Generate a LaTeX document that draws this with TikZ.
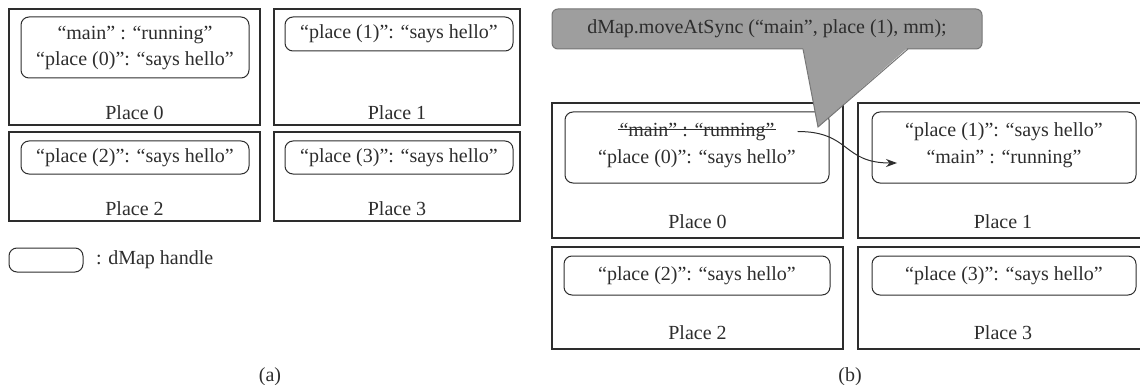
\documentclass[tikz,border=0pt]{standalone}
\usepackage{fontspec}
\setmainfont{Liberation Serif}
\usepackage{tikz}
\usetikzlibrary{calc}
\usetikzlibrary{positioning,arrows.meta}
\definecolor{inkgray}{RGB}{45,45,45}
\definecolor{calloutfill}{RGB}{158,158,158}
\definecolor{calloutline}{RGB}{118,118,118}

\begin{document}
\begin{tikzpicture}[
        x=1pt,
        y=-1pt,
        every node/.style={text=inkgray,font=\fontsize{20}{26}\selectfont},
        place box/.style={draw=inkgray,line width=1.2pt,inner sep=0pt},
        place label/.style={inner sep=0pt,anchor=base},
        dmap handle/.style={draw=inkgray,line width=1pt,rounded corners=8pt,
            align=center,inner sep=0pt},
        handle line/.style={inner sep=1pt,anchor=base},
        strike/.style={draw=inkgray,line width=1pt},
        callout/.style={fill=calloutfill,draw=calloutline,line width=1pt,
            rounded corners=6pt,inner sep=0pt},
        move arrow/.style={draw=inkgray,line width=1pt,
            -{Stealth[length=11pt,width=8pt]}}
    ]
        \useasboundingbox (0,0) rectangle (1140,385);

        % Panel (a): the four places before the move.
        \node[place box,minimum width=251pt,minimum height=116pt] (p0a) at (134.5,67) {};
        \node[place box,minimum width=246pt,minimum height=116pt] (p1a) at (397,67) {};
        \node[place box,minimum width=251pt,minimum height=89pt] (p2a) at (134.5,176.5) {};
        \node[place box,minimum width=246pt,minimum height=89pt] (p3a) at (397,176.5) {};
        \node[place label] at ($(p0a.south)+(0,-6)$) {Place 0};
        \node[place label] at ($(p1a.south)+(0,-6)$) {Place 1};
        \node[place label] at ($(p2a.south)+(0,-6)$) {Place 2};
        \node[place label] at ($(p3a.south)+(0,-6)$) {Place 3};

        \node[dmap handle,minimum width=228pt,minimum height=61pt] (h0a) at (135,47.5)
            {“main” : “running”\\“place (0)”: “says hello”};
        \node[dmap handle,minimum width=228pt,minimum height=34pt] (h1a) at (399,34)
            {“place (1)”: “says hello”};
        \node[dmap handle,minimum width=228pt,minimum height=33pt] (h2a) at (135,157.5)
            {“place (2)”: “says hello”};
        \node[dmap handle,minimum width=228pt,minimum height=33pt] (h3a) at (399,157.5)
            {“place (3)”: “says hello”};

        % The legend.
        \node[dmap handle,minimum width=74pt,minimum height=24pt] (legend) at (46,260) {};
        \node[right=9pt of legend] (legendtext) {: dMap handle};

        \node (capa) at (270,377) {(a)};

        % Panel (b): the four places after the move.
        \node[place box,minimum width=291pt,minimum height=135pt] (p0b) at (697.5,170.5) {};
        \node[place box,minimum width=290pt,minimum height=135pt] (p1b) at (1003,170.5) {};
        \node[place box,minimum width=291pt,minimum height=102pt] (p2b) at (697.5,298) {};
        \node[place box,minimum width=290pt,minimum height=102pt] (p3b) at (1003,298) {};
        \node[place label] at ($(p0b.south)+(0,-10)$) {Place 0};
        \node[place label] at ($(p1b.south)+(0,-10)$) {Place 1};
        \node[place label] at ($(p2b.south)+(0,-10)$) {Place 2};
        \node[place label] at ($(p3b.south)+(0,-10)$) {Place 3};

        \node[dmap handle,minimum width=264pt,minimum height=71pt] (h0b) at (697,147.5) {};
        \node[handle line] (oldmain) at (697,136) {“main” : “running”};
        \draw[strike] ($(oldmain.base west)+(0,-6)$) -- ($(oldmain.base east)+(0,-6)$);
        \node[handle line] (zerohello) at (697,164) {“place (0)”: “says hello”};
        \node[dmap handle,minimum width=264pt,minimum height=71pt] (h1b) at (1004,147.5) {};
        \node[handle line] (onehello) at (1004,136) {“place (1)”: “says hello”};
        \node[handle line] (newmain) at (1004,164) {“main” : “running”};
        \node[dmap handle,minimum width=266pt,minimum height=39pt] (h2b) at (697,275.5)
            {“place (2)”: “says hello”};
        \node[dmap handle,minimum width=264pt,minimum height=39pt] (h3b) at (1004,275.5)
            {“place (3)”: “says hello”};

        % The entry moves from place 0 to place 1.
        \coordinate (moveto) at (897,163);
        \draw[move arrow,shorten <=22pt] (oldmain.east)
            .. controls +(75,0) and +(-55,0) .. (moveto);

        % The call, with its pointer.
        \node[callout,minimum width=430pt,minimum height=40pt] (call) at (767,29)
            {dMap.moveAtSync (“main”, place (1), mm);};
        \coordinate (tailleft) at (803,49);
        \coordinate (tailright) at (908,49);
        \coordinate (tailtip) at (818,127);
        \fill[calloutfill] ($(tailleft)+(0,-1.5)$) -- (tailtip)
            -- ($(tailright)+(0,-1.5)$) -- cycle;
        \draw[calloutline,line width=1pt] (tailleft) -- (tailtip) -- (tailright);

        \node (capb) at (850,377) {(b)};
    \end{tikzpicture}
\end{document}
